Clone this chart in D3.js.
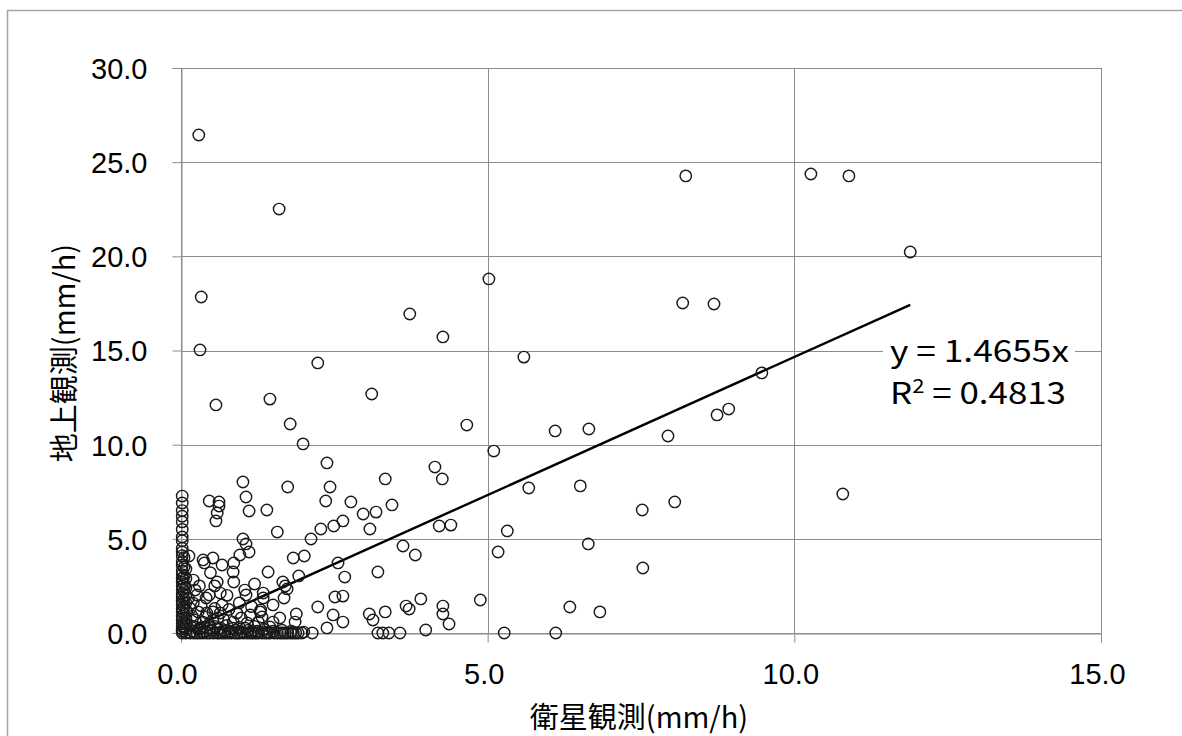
<!DOCTYPE html>
<html><head><meta charset="utf-8">
<script src="https://cdn.jsdelivr.net/npm/d3@7"></script>
<style>body{margin:0;background:#fff}svg{display:block}</style>
</head><body><svg id="c" width="1182" height="736"></svg>
<script>
const xTicks = [0, 5, 10, 15];
const yTicks = [0, 5, 10, 15, 20, 25, 30];
const xTitle = "衛星観測(mm/h)";
const yTitle = "地上観測(mm/h)";
const slope = 1.4655;
const eqText = "y = 1.4655x";
const r2Text = "0.4813";

// [satellite (mm/h), ground (mm/h)]
const outerPoints = [
 [0.29,26.44],[1.60,22.51],[8.23,24.27],[10.27,24.37],[10.89,24.27],[11.89,20.23],
 [5.02,18.80],[0.33,17.84],[8.18,17.52],[8.69,17.47],[3.73,16.94],[4.27,15.72],
 [0.31,15.03],[5.59,14.65],[2.23,14.34],[9.47,13.81],[3.11,12.69],[1.45,12.42],
 [0.57,12.11],[8.74,11.58],[8.93,11.89],[1.78,11.10],[4.66,11.04],[6.65,10.83],
 [6.10,10.73],[7.94,10.46],[1.99,10.04],[5.10,9.66],[2.38,9.03],[4.14,8.81],
 [3.33,8.18],[4.26,8.18],[1.01,8.02],[10.79,7.38],[1.74,7.75],[2.43,7.75],
 [5.67,7.70],[6.51,7.81],[1.06,7.22],[0.46,7.01],[0.62,6.96],[0.62,6.74],
 [2.36,7.01],[2.77,6.96],[8.05,6.96],[3.44,6.80],[1.11,6.48],[1.40,6.53],
 [7.52,6.53],[2.97,6.32],[3.18,6.42],[0.59,6.37],[0.57,5.95],[2.64,5.95],
 [2.49,5.68],[3.08,5.52],[4.21,5.68],[4.40,5.73],[5.32,5.42],[2.28,5.52],
 [1.57,5.36],[2.12,4.99],[1.01,4.99],[1.06,4.73],[3.62,4.62],[6.64,4.73],
 [5.17,4.30],[3.82,4.14],[2.01,4.09],[1.83,3.98],[1.11,4.30],[0.96,4.14],
 [0.13,4.09],[0.36,3.88],[0.52,3.98],[0.38,3.72],[0.67,3.61],[0.86,3.72],
 [2.56,3.72],[7.53,3.45],[3.21,3.24],[1.42,3.24],[2.67,2.97],[1.92,3.03],
 [0.85,3.24],[1.66,2.71],[1.70,2.50],[1.73,2.34],[0.20,2.81],[0.59,2.71],
 [0.55,2.50],[0.86,2.71],[1.04,2.28],[1.06,2.02],[0.23,2.28],[0.26,2.02],
 [0.64,2.12],[0.46,2.02],[0.41,1.86],[1.34,2.12],[1.34,1.86],[1.68,1.86],
 [0.67,1.49],[0.20,1.59],[1.50,1.49],[2.23,1.38],[2.51,1.91],[2.64,1.96],
 [4.88,1.75],[3.91,1.81],[6.34,1.38],[3.67,1.43],[3.72,1.27],[4.27,1.43],
 [4.27,1.01],[6.83,1.12],[3.33,1.12],[3.07,1.01],[3.13,0.69],[4.37,0.48],
 [3.99,0.16],[2.64,0.58],[2.48,0.96],[0.28,1.12],[0.42,1.06],[0.52,1.12],
 [0.64,1.06],[0.23,0.69],[0.36,0.58],[0.52,0.69],[0.60,0.80],[0.91,1.06],
 [1.13,0.96],[1.29,1.12],[1.32,0.85],[1.26,0.58],[0.85,0.58],[1.08,0.53],
 [1.45,0.32],[1.50,0.58],[1.61,0.80],[1.86,0.58],[2.38,0.27],[0.31,0.27],
 [0.47,0.27],[0.64,0.27],[1.88,1.01],[1.30,1.22],
 [0.15,1.30],[0.33,1.45],[0.55,1.30],[0.78,1.25],[0.70,0.70],[0.98,0.80],
 [0.18,0.90],[0.40,0.85],[1.15,1.40],[0.12,1.85],[0.30,2.50],[0.48,3.20],
 [0.95,1.60],[0.75,2.00],[1.20,2.60]
];
const zeroRowPoints = [
 [0.15,0],[0.26,0],[0.36,0],[0.47,0],[0.59,0],[0.68,0],[0.77,0],[0.88,0],[0.96,0],
 [1.08,0],[1.17,0],[1.26,0],[1.37,0],[1.45,0],[1.57,0],[1.66,0],[1.74,0],[1.83,0],
 [1.91,0],[1.97,0],[2.14,0],[3.21,0],[3.29,0],[3.39,0],[3.57,0],[5.27,0],[6.11,0],
 [0.20,0.10],[0.50,0.15],[0.80,0.10],[1.10,0.15],[0.35,0.05],[0.65,0.05],[1.00,0.05],
 [1.25,0.10],[1.50,0.10],[1.80,0.10],[2.00,0.05],[0.15,0.40],[0.45,0.45],[0.75,0.40],
 [0.95,0.30],[1.20,0.35],[0.30,0.20],[0.60,0.20],[0.90,0.15],
 [0.21,0],[0.31,0],[0.42,0],[0.53,0],[0.63,0],[0.72,0],[0.82,0],[0.92,0],[1.02,0],
 [1.13,0],[1.22,0],[1.32,0],[1.41,0],[1.52,0],[1.62,0],[1.70,0],[1.79,0],[1.87,0],
 [0.25,0.30],[0.55,0.35],[0.85,0.25],[1.05,0.25],[1.35,0.20],[1.65,0.15],[0.40,0.10],
 [0.70,0.12],[1.15,0.08],[1.40,0.05]
];
const nearZeroColumn = [
 [0.02,7.27],[0.02,6.90],[0.02,6.50],[0.02,6.20],[0.02,5.90],[0.02,5.50],[0.02,5.10],
 [0.02,4.90],[0.02,4.50],[0.02,4.30],[0.02,4.10],[0.02,3.80],[0.02,3.60],[0.02,3.30],
 [0.02,3.10],[0.02,2.90],[0.02,2.70],[0.02,2.50],[0.02,2.30],[0.02,2.10],[0.02,1.90],
 [0.02,1.70],[0.02,1.50],[0.02,1.30],[0.02,1.10],[0.02,0.90],[0.02,0.70],[0.02,0.50],
 [0.02,0.35],[0.02,0.20],[0.02,0.10],[0.02,0.00],
 [0.08,0.00],[0.08,0.20],[0.08,0.50],[0.08,0.80],[0.08,1.20],[0.08,1.60],[0.08,2.00],
 [0.08,2.40],[0.08,2.90],[0.08,3.40],
 [0.05,0.30],[0.05,0.60],[0.05,1.00],[0.05,1.40],[0.05,1.80],[0.05,2.20],[0.05,2.60],
 [0.05,3.00],[0.05,3.50],[0.05,4.00]
];
const points = outerPoints.concat(zeroRowPoints, nearZeroColumn);

const svg = d3.select("#c");
const L = 181, R = 1101, T = 68, B = 633;
const x = d3.scaleLinear().domain([0, 15]).range([L, R]);
const y = d3.scaleLinear().domain([0, 30]).range([B, T]);
const fmt = d3.format(".1f");
const gridCol = "#8c8c8c";

// outer frame
svg.append("rect").attr("x", 7.5).attr("y", 10.5).attr("width", 1200).attr("height", 800)
  .attr("fill", "none").attr("stroke", "#a6a6a6").attr("stroke-width", 1.5);

// gridlines
svg.append("g").selectAll("line").data(yTicks).join("line")
  .attr("x1", L).attr("x2", R).attr("y1", d => Math.round(y(d)) + 0.5).attr("y2", d => Math.round(y(d)) + 0.5)
  .attr("stroke", gridCol).attr("stroke-width", 1);
svg.append("g").selectAll("line").data(xTicks).join("line")
  .attr("y1", T).attr("y2", B).attr("x1", d => Math.round(x(d)) + 0.5).attr("x2", d => Math.round(x(d)) + 0.5)
  .attr("stroke", gridCol).attr("stroke-width", 1);

// axes
const yAxis = svg.append("g").attr("transform", `translate(${L + 0.5},0)`)
  .call(d3.axisLeft(y).tickValues(yTicks).tickSize(9).tickPadding(25).tickFormat(fmt));
const xAxis = svg.append("g").attr("transform", `translate(0,${B + 0.5})`)
  .call(d3.axisBottom(x).tickValues(xTicks).tickSize(9).tickPadding(20).tickFormat(fmt));
[yAxis, xAxis].forEach(g => {
  g.select(".domain").attr("stroke", gridCol);
  g.selectAll(".tick line").attr("stroke", gridCol);
  g.selectAll("text").attr("fill", "#000").style("font-family", "'Liberation Sans', Arial, sans-serif").style("font-size", "29px");
});
yAxis.selectAll("text").attr("dy", "0.36em");
xAxis.selectAll("text").attr("dx", "-4px").attr("dy", "0.75em");

// regression line
const xMax = d3.max(points, d => d[0]);
svg.append("line")
  .attr("x1", x(0)).attr("y1", y(0)).attr("x2", x(xMax)).attr("y2", y(slope * xMax))
  .attr("stroke", "#000").attr("stroke-width", 2.4);

// points
svg.append("g").selectAll("circle").data(points).join("circle")
  .attr("cx", d => x(d[0])).attr("cy", d => y(d[1])).attr("r", 5.7)
  .attr("fill", "none").attr("stroke", "#1a1a1a").attr("stroke-width", 1.45);

// regression label
const lab = svg.append("g");
lab.append("rect").attr("x", 883).attr("y", 334).attr("width", 192).attr("height", 78).attr("fill", "#fff");
const labFont = "'Noto Sans CJK JP', 'Liberation Sans', sans-serif";
lab.append("text").attr("x", 890).attr("y", 362).text(eqText)
  .style("font-family", labFont).style("font-size", "30px").attr("fill", "#000")
  .attr("textLength", 179).attr("lengthAdjust", "spacingAndGlyphs");
const t2 = lab.append("text").attr("x", 890).attr("y", 404)
  .style("font-family", labFont).style("font-size", "30px").attr("fill", "#000")
  .attr("textLength", 176).attr("lengthAdjust", "spacingAndGlyphs");
t2.append("tspan").text("R");
t2.append("tspan").text("2").attr("dy", "-11").style("font-size", "19px");
t2.append("tspan").text(" = " + r2Text).attr("dy", "11");

// axis titles
svg.append("text").attr("x", 639).attr("y", 728).attr("text-anchor", "middle")
  .style("font-family", "'Noto Sans CJK JP', sans-serif").style("font-size", "29px").text(xTitle);
svg.append("text").attr("transform", "translate(75,353) rotate(-90)").attr("text-anchor", "middle")
  .style("font-family", "'Noto Sans CJK JP', sans-serif").style("font-size", "29px").text(yTitle);
</script></body></html>
